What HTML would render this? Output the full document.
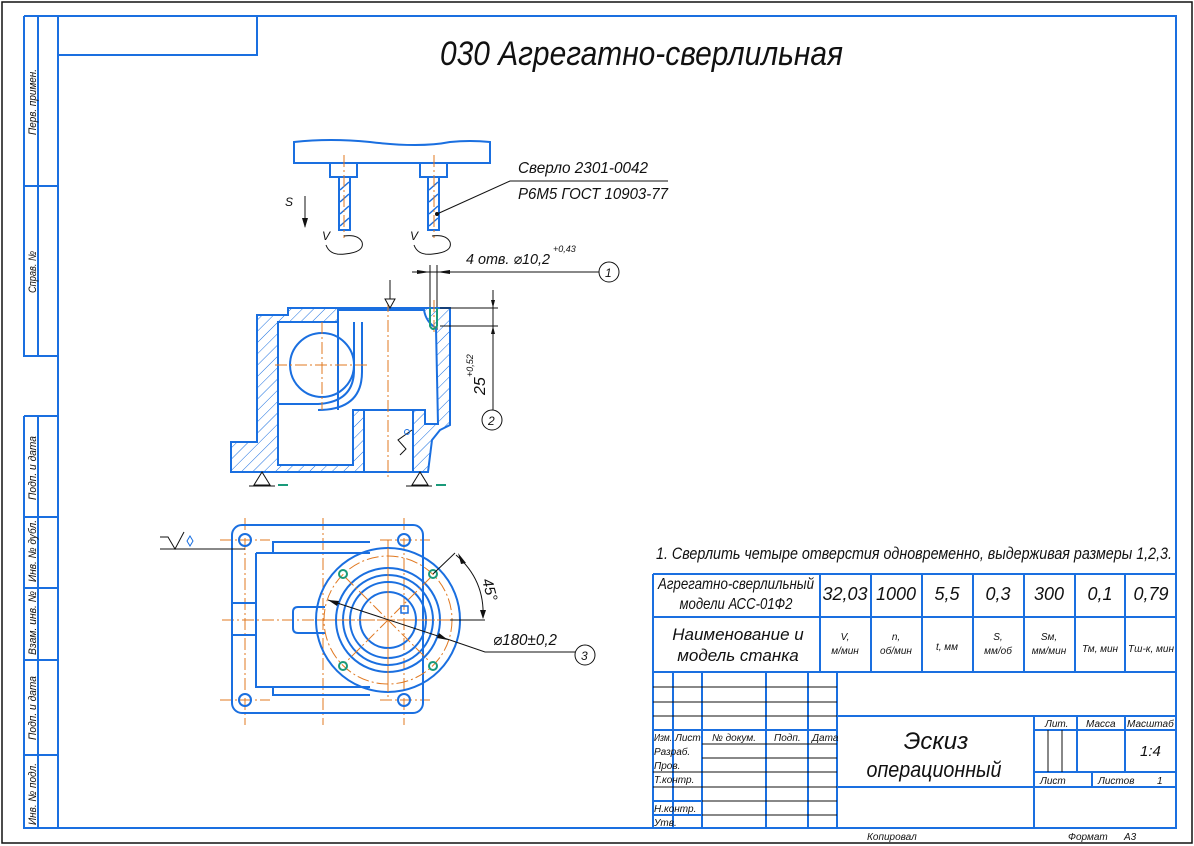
<!DOCTYPE html>
<html><head><meta charset="utf-8"><style>
html,body{margin:0;padding:0;background:#fff}
svg{display:block}
text{font-family:"Liberation Sans","DejaVu Sans",sans-serif;font-style:italic;fill:#111}
.b{stroke:#1a6fe0;stroke-width:2;fill:none}
.bt{stroke:#1a6fe0;stroke-width:1.5;fill:none}
.o{stroke:#e07820;stroke-width:1;fill:none;stroke-dasharray:12 3 2 3}
.k{stroke:#111;stroke-width:1;fill:none}
.g{stroke:#1a9a7a;stroke-width:2;fill:none}
</style></head><body>
<svg width="1194" height="846" viewBox="0 0 1194 846" xmlns="http://www.w3.org/2000/svg">
<defs>
<pattern id="h" width="8" height="8" patternUnits="userSpaceOnUse" patternTransform="rotate(45)">
<line x1="0" y1="0" x2="0" y2="8" stroke="#1a6fe0" stroke-width="1"/>
</pattern>
</defs>
<rect x="2" y="2" width="1190" height="841" fill="none" stroke="#111" stroke-width="1.5"/>
<!-- frame -->
<rect x="58" y="16" width="1118" height="812" class="b"/>
<rect x="58" y="16" width="199" height="39" class="b"/>
<!-- left strips -->
<path class="b" d="M24,16 H58 M24,16 V356 H58 M38,16 V356 M24,186 H58"/>
<path class="b" d="M24,416 H58 M24,416 V828 H58 M38,416 V828 M24,517 H58 M24,588 H58 M24,660 H58 M24,755 H58"/>
<g font-size="11">
<text transform="translate(36,135) rotate(-90)" textLength="66" lengthAdjust="spacingAndGlyphs">Перв. примен.</text>
<text transform="translate(36,293) rotate(-90)" textLength="42" lengthAdjust="spacingAndGlyphs">Справ. №</text>
<text transform="translate(36,500) rotate(-90)" textLength="64" lengthAdjust="spacingAndGlyphs">Подп. и дата</text>
<text transform="translate(36,582) rotate(-90)" textLength="62" lengthAdjust="spacingAndGlyphs">Инв. № дубл.</text>
<text transform="translate(36,655) rotate(-90)" textLength="64" lengthAdjust="spacingAndGlyphs">Взам. инв. №</text>
<text transform="translate(36,740) rotate(-90)" textLength="64" lengthAdjust="spacingAndGlyphs">Подп. и дата</text>
<text transform="translate(36,825) rotate(-90)" textLength="62" lengthAdjust="spacingAndGlyphs">Инв. № подл.</text>
</g>
<!-- title -->
<text x="440" y="65" font-size="34" textLength="403" lengthAdjust="spacingAndGlyphs">030 Агрегатно-сверлильная</text>

<!-- spindle head -->
<path class="b" d="M294,163 V142 Q330,138 370,142 Q420,148 450,142 Q470,140 490,142 V163 Z"/>
<rect x="330" y="163" width="27" height="14" class="b"/>
<rect x="420" y="163" width="27" height="14" class="b"/>
<rect x="339" y="177" width="11" height="53" class="b"/>
<rect x="428" y="177" width="11" height="53" class="b"/>
<path class="bt" d="M340,190 L349,182 M340,202 L349,194 M340,214 L349,206 M340,226 L349,218 M429,190 L438,182 M429,202 L438,194 M429,214 L438,206 M429,226 L438,218"/>
<line x1="344" y1="155" x2="344" y2="238" class="o"/>
<line x1="434" y1="155" x2="434" y2="238" class="o"/>
<!-- S arrow -->
<text x="285" y="206" font-size="12">S</text>
<path class="k" d="M305,196 V227"/><path d="M302,218 L305,228 L308,218 Z" fill="#111"/>
<!-- V arcs -->
<text x="322" y="240" font-size="12">V</text>
<text x="410" y="240" font-size="12">V</text>
<path class="k" d="M326,245 Q330,256 345,254 Q365,252 362,242 Q358,234 344,236"/>
<path class="k" d="M414,245 Q418,256 433,254 Q453,252 450,242 Q446,234 432,236"/>
<!-- drill label -->
<text x="518" y="173" font-size="16" textLength="130" lengthAdjust="spacingAndGlyphs">Сверло 2301-0042</text>
<text x="518" y="199" font-size="16" textLength="150" lengthAdjust="spacingAndGlyphs">Р6М5 ГОСТ 10903-77</text>
<path class="k" d="M668,181 H510 L437,214"/><circle cx="437" cy="214" r="2" fill="#111"/>
<!-- dim 1 -->
<text x="466" y="264" font-size="15" textLength="84" lengthAdjust="spacingAndGlyphs">4 отв. ⌀10,2</text>
<text x="553" y="252" font-size="9">+0,43</text>
<path class="k" d="M412,272 H599 M430,265 V330 M437,265 V330"/>
<path d="M417,270 L430,272 L417,274 Z M450,270 L437,272 L450,274 Z" fill="#111"/>
<circle cx="609" cy="272" r="10" class="k"/><text x="605" y="277" font-size="12" font-style="normal">1</text>
<!-- section -->
<path d="M288,308 L450,308 L450,425 L440,430 L432,440 L428,472 L231,472 L231,442 L257,442 L257,315 L288,315 Z" fill="url(#h)" stroke="#1a6fe0" stroke-width="2"/>
<path d="M278,322 L338,322 L338,310 L424,310 Q426,322 436,328 L438,424 L425,424 L425,410 L353,410 L353,465 L278,465 Z" fill="#fff" stroke="#1a6fe0" stroke-width="2"/>
<rect x="364" y="410" width="49" height="62" fill="#fff" stroke="#1a6fe0" stroke-width="2"/>
<circle cx="322" cy="365" r="32" class="b" fill="#fff"/>
<path class="b" d="M354,322 V370 Q354,402 318,404 H278 M362,322 V372 Q362,410 318,410"/>
<line x1="338" y1="322" x2="338" y2="410" class="b"/>
<path class="o" d="M275,365 H370 M322,322 V410 M388,300 V480 M434,300 V335"/>
<path class="g" d="M430,308 V326 Q433,332 437,326 V308"/>
<path class="k" d="M390,280 V300"/><path d="M385,299 L395,299 L390,308 Z" fill="#fff" stroke="#111"/>
<!-- dim 2 -->
<path class="k" d="M440,308 H498 M440,326 H498 M493,290 V410"/>
<path d="M491,300 L493,308 L495,300 Z M491,334 L493,326 L495,334 Z" fill="#111"/>
<text transform="translate(485,395) rotate(-90)" font-size="16">25</text>
<text transform="translate(473,377) rotate(-90)" font-size="9">+0,52</text>
<circle cx="492" cy="420" r="10" class="k"/><text x="488" y="425" font-size="12" font-style="normal">2</text>
<path class="k" d="M400,455 L406,449 L398,440 L412,430"/><circle cx="407" cy="432" r="2.5" stroke="#1a6fe0" fill="none"/>
<!-- supports -->
<path class="k" d="M262,472 L254,485 L270,485 Z M249,486 H275 M420,472 L412,485 L428,485 Z M406,486 H432"/>
<path class="g" d="M278,485 H288 M436,485 H446"/>
<!-- top view -->
<path class="o" d="M220,540 H270 M220,700 H270 M380,540 H430 M380,700 H430 M245,518 V725 M404,518 V725 M222,620 H460 M323,518 V725 M388,540 V700"/>
<rect x="232" y="525" width="191" height="188" rx="10" class="b"/>
<circle cx="245" cy="540" r="6" class="b"/><circle cx="404" cy="540" r="6" class="b"/>
<circle cx="245" cy="700" r="6" class="b"/><circle cx="404" cy="700" r="6" class="b"/>
<path class="b" d="M273,553 V542 H370 M256,553 V687 H370 M256,553 H370 M273,687 V695 H370 M232,603 H256 M232,635 H256 M320,607 H298 Q293,607 293,612 V628 Q293,633 298,633 H320"/>
<circle cx="388" cy="620" r="72" class="b" fill="#fff"/>
<path class="b" d="M320,607 H325 M320,633 H325"/>
<circle cx="388" cy="620" r="64" class="o"/>
<circle cx="388" cy="620" r="52" class="b"/>
<circle cx="388" cy="620" r="45" class="b"/>
<circle cx="388" cy="620" r="38" class="b"/>
<circle cx="388" cy="620" r="28" class="b"/>
<path class="o" d="M318,620 H460 M388,548 V692 M345,577 L431,663 M431,577 L345,663"/>
<circle cx="343" cy="574" r="4" class="g"/><circle cx="433" cy="574" r="4" class="g"/>
<circle cx="343" cy="666" r="4" class="g"/><circle cx="433" cy="666" r="4" class="g"/>
<rect x="401" y="606" width="7" height="7" class="bt"/>
<path class="k" d="M160,537 H168 L175,549 L184,532 M160,549 H245"/><path d="M190,536 L193,541 L190,546 L187,541 Z" stroke="#1a6fe0" fill="none"/>
<!-- 45 deg -->
<path class="k" d="M433,574 L455,553 M450,620 H485 M456,555 Q485,580 483,618"/>
<path d="M458,553 L466,563 L461,564 Z M480,610 L483,619 L486,610 Z" fill="#111"/>
<text transform="translate(482,580) rotate(75)" font-size="15">45°</text>
<!-- dia 180 -->
<path class="k" d="M328,600 L450,640 L485,652 H575"/>
<path d="M328,600 L339,601 L337,606 Z M448,640 L437,638 L439,633 Z" fill="#111"/>
<text x="493" y="645" font-size="16" textLength="64" lengthAdjust="spacingAndGlyphs">⌀180±0,2</text>
<circle cx="585" cy="655" r="10" class="k"/><text x="581" y="660" font-size="12" font-style="normal">3</text>

<!-- note -->
<text x="656" y="559" font-size="17" textLength="516" lengthAdjust="spacingAndGlyphs">1. Сверлить четыре отверстия одновременно, выдерживая размеры 1,2,3.</text>
<!-- table -->
<path class="b" d="M653,574 H1176 M653,574 V828 M653,617 H1176 M653,672 H1176 M820,574 V672 M871,574 V672 M922,574 V672 M973,574 V672 M1024,574 V672 M1075,574 V672 M1125,574 V672"/>
<g font-size="16" text-anchor="middle">
<text x="736" y="589" textLength="156" lengthAdjust="spacingAndGlyphs">Агрегатно-сверлильный</text>
<text x="736" y="609" textLength="113" lengthAdjust="spacingAndGlyphs">модели АСС-01Ф2</text>
<text x="845" y="600" font-size="18">32,03</text>
<text x="896" y="600" font-size="18">1000</text>
<text x="947" y="600" font-size="18">5,5</text>
<text x="998" y="600" font-size="18">0,3</text>
<text x="1049" y="600" font-size="18">300</text>
<text x="1100" y="600" font-size="18">0,1</text>
<text x="1151" y="600" font-size="18">0,79</text>
<text x="738" y="640" font-size="17">Наименование и</text>
<text x="738" y="661" font-size="17">модель станка</text>
<g font-size="10">
<text x="845" y="640">V,</text><text x="845" y="654">м/мин</text>
<text x="896" y="640">n,</text><text x="896" y="654">об/мин</text>
<text x="947" y="650">t, мм</text>
<text x="998" y="640">S,</text><text x="998" y="654">мм/об</text>
<text x="1049" y="640">Sм,</text><text x="1049" y="654">мм/мин</text>
<text x="1100" y="652">Тм, мин</text>
<text x="1151" y="652">Тш-к, мин</text>
</g>
</g>
<!-- title block -->
<path class="b" d="M673,672 V828 M702,672 V828 M766,672 V828 M808,672 V828 M837,672 V828 M837,716 H1176 M837,787 H1176 M1034,716 V828 M1034,730 H1176 M1034,772 H1176 M1077,716 V772 M1125,716 V772 M1092,772 V787 M653,730 H837"/>
<path class="k" d="M653,687 H837 M653,702 H837 M653,716 H837 M1048,730 V772 M1062,730 V772 M702,744 H837 M702,758 H837 M653,772 H837 M653,787 H837 M702,801 H837 M702,815 H837"/>
<path class="b" d="M653,801 H702 M653,815 H702"/>
<g font-size="10">
<text x="654" y="741" textLength="18" lengthAdjust="spacingAndGlyphs">Изм.</text>
<text x="675" y="741">Лист</text>
<text x="712" y="741">№ докум.</text>
<text x="774" y="741">Подп.</text>
<text x="812" y="741">Дата</text>
<text x="654" y="755">Разраб.</text>
<text x="654" y="769">Пров.</text>
<text x="654" y="783">Т.контр.</text>
<text x="654" y="812">Н.контр.</text>
<text x="654" y="826">Утв.</text>
<text x="1045" y="727">Лит.</text>
<text x="1086" y="727">Масса</text>
<text x="1127" y="727">Масштаб</text>
<text x="1140" y="756" font-size="15">1:4</text>
<text x="1040" y="784">Лист</text>
<text x="1098" y="784">Листов</text>
<text x="1157" y="784">1</text>
<text x="867" y="840">Копировал</text>
<text x="1068" y="840">Формат</text>
<text x="1124" y="840">А3</text>
</g>
<text x="936" y="749" font-size="24" text-anchor="middle">Эскиз</text>
<text x="934" y="777" font-size="22" text-anchor="middle" textLength="135" lengthAdjust="spacingAndGlyphs">операционный</text>
</svg>
</body></html>
